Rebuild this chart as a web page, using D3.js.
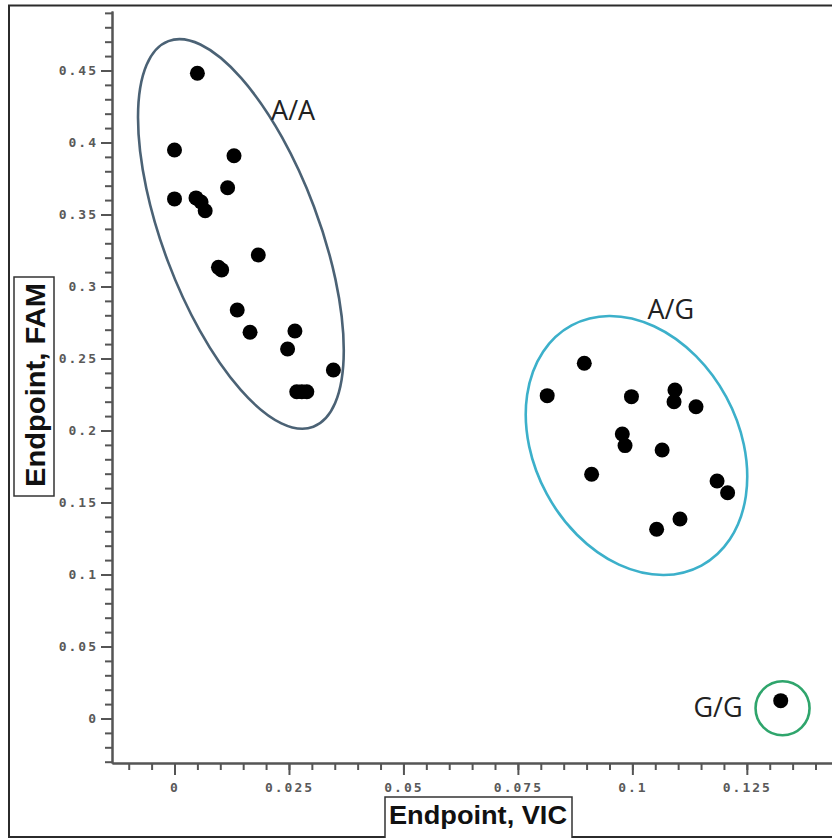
<!DOCTYPE html>
<html>
<head>
<meta charset="utf-8">
<script src="https://cdn.jsdelivr.net/npm/d3@7"></script>
<style>
  body { margin: 0; background: #fff; }
  svg { display: block; }
</style>
</head>
<body>
<svg id="scatter_svg" width="832" height="838"></svg>
<script>
// Endpoint values, one pair of arrays per genotype
const aaVIC = [0.0050, 0.0000, 0.0130, 0.0116, 0.0000, 0.0047, 0.0058, 0.0067, 0.0183, 0.0096,
  0.0103, 0.0137, 0.0165, 0.0263, 0.0247, 0.0347, 0.0267, 0.0278, 0.0289]
const aaFAM = [0.4481, 0.3948, 0.3908, 0.3686, 0.3608, 0.3615, 0.3587, 0.3526, 0.3219, 0.3133,
  0.3115, 0.2837, 0.2682, 0.2691, 0.2566, 0.2420, 0.2269, 0.2269, 0.2269]

const agVIC = [0.0895, 0.0814, 0.0998, 0.1093, 0.1091, 0.1139, 0.0978, 0.0984, 0.1065, 0.0911,
  0.1185, 0.1208, 0.1104, 0.1053]
const agFAM = [0.2467, 0.2242, 0.2235, 0.2281, 0.2200, 0.2165, 0.1976, 0.1895, 0.1865, 0.1696,
  0.1649, 0.1568, 0.1385, 0.1314]

const ggVIC = [0.1324]
const ggFAM = [0.0124]

// cluster call names, centres and where the label sits (data units)
const clusterNames = ["A/A", "A/G", "G/G"]
const clusterCenterVIC = [0.0145, 0.1009, 0.1328]
const clusterCenterFAM = [0.3365, 0.1896, 0.0071]
const labelVIC = [0.0259, 0.1084, 0.1187]
const labelFAM = [0.4156, 0.2774, 0.0010]

// axis ticks
const xMajorTicks = [0, 0.025, 0.05, 0.075, 0.1, 0.125]
const xTickLabels = ["0", "0.025", "0.05", "0.075", "0.1", "0.125"]
const yMajorTicks = [0, 0.05, 0.1, 0.15, 0.2, 0.25, 0.3, 0.35, 0.4, 0.45]
const yTickLabels = ["0", "0.05", "0.1", "0.15", "0.2", "0.25", "0.3", "0.35", "0.4", "0.45"]

const svg = d3.select("#scatter_svg")

/**
 * Plot area in pixels
 */
const plot = { left: 112, right: 832, top: 11, bottom: 763 }

const xScale = d3.scaleLinear()
  .domain([-0.01365, 0.1436])
  .range([plot.left, plot.right])

const yScale = d3.scaleLinear()
  .domain([-0.0309, 0.4913])
  .range([plot.bottom, plot.top])

/**
 * Outer frame of the picture
 */
svg.append("rect")
  .attr("x", 9)
  .attr("y", 5.5)
  .attr("width", 840)
  .attr("height", 831.5)
  .attr("fill", "none")
  .attr("stroke", "#2b2b2b")
  .attr("stroke-width", 2)

/**
 * Ellipses round each cluster (drawn first, dots go on top)
 */
const ellipseStyle = [
  { rx: 78, ry: 206, angle: -20.6, color: "#4b6275" },
  { rx: 102, ry: 136.5, angle: -28.4, color: "#3cb0ca" },
  { rx: 27, ry: 27, angle: 0, color: "#2fa56c" },
]

svg.append("g")
  .selectAll("ellipse")
  .data(clusterNames)
  .join("ellipse")
  .attr("transform", (d, i) =>
    `translate(${xScale(clusterCenterVIC[i])},${yScale(clusterCenterFAM[i])}) rotate(${ellipseStyle[i].angle})`)
  .attr("rx", (d, i) => ellipseStyle[i].rx)
  .attr("ry", (d, i) => ellipseStyle[i].ry)
  .attr("fill", "none")
  .attr("stroke", (d, i) => ellipseStyle[i].color)
  .attr("stroke-width", 2.6)

/**
 * Dots
 */
const points = [
  ...aaVIC.map((v, i) => [v, aaFAM[i]]),
  ...agVIC.map((v, i) => [v, agFAM[i]]),
  ...ggVIC.map((v, i) => [v, ggFAM[i]]),
]

svg.append("g")
  .selectAll("circle")
  .data(points)
  .join("circle")
  .attr("cx", d => xScale(d[0]))
  .attr("cy", d => yScale(d[1]))
  .attr("r", 7.5)
  .attr("fill", "#000")

/**
 * Cluster labels
 */
svg.append("g")
  .selectAll("text")
  .data(clusterNames)
  .join("text")
  .attr("x", (d, i) => xScale(labelVIC[i]))
  .attr("y", (d, i) => yScale(labelFAM[i]))
  .attr("text-anchor", "middle")
  .attr("font-family", "'Open Sans', sans-serif")
  .attr("font-size", 27)
  .attr("fill", "#222")
  .text(d => d)

/**
 * Axes: major ticks with labels, minor ticks without
 */
const axisColor = "#555"

function styleAxis(g) {
  g.select(".domain").attr("stroke", axisColor).attr("stroke-width", 2)
  g.selectAll(".tick line").attr("stroke", axisColor).attr("stroke-width", 2)
  g.selectAll(".tick text")
    .attr("fill", "#595959")
    .attr("font-family", "'DejaVu Sans Mono', monospace")
    .attr("font-weight", "bold")
    .attr("font-size", 13)
    .attr("letter-spacing", "2px")
}

const xMinor = d3.range(-0.01, 0.1436, 0.005).map(v => Math.round(v * 1000) / 1000)
const yMinor = d3.range(-0.03, 0.4913, 0.01).map(v => Math.round(v * 100) / 100)

svg.append("g")
  .attr("transform", `translate(0,${plot.bottom})`)
  .call(d3.axisBottom(xScale).tickValues(xMinor).tickSize(7).tickFormat("").tickSizeOuter(0))
  .call(styleAxis)

svg.append("g")
  .attr("transform", `translate(0,${plot.bottom})`)
  .call(d3.axisBottom(xScale).tickValues(xMajorTicks).tickSize(12).tickPadding(8)
    .tickFormat((d, i) => xTickLabels[i]).tickSizeOuter(0))
  .call(styleAxis)

svg.append("g")
  .attr("transform", `translate(${plot.left},0)`)
  .call(d3.axisLeft(yScale).tickValues(yMinor).tickSize(7).tickFormat("").tickSizeOuter(0))
  .call(styleAxis)

svg.append("g")
  .attr("transform", `translate(${plot.left},0)`)
  .call(d3.axisLeft(yScale).tickValues(yMajorTicks).tickSize(11).tickPadding(3)
    .tickFormat((d, i) => yTickLabels[i]).tickSizeOuter(0))
  .call(styleAxis)

/**
 * Boxed axis titles
 */
svg.append("rect")
  .attr("x", 385).attr("y", 797).attr("width", 187).attr("height", 44)
  .attr("fill", "#fff").attr("stroke", "#333").attr("stroke-width", 1.5)

svg.append("text")
  .attr("x", 478).attr("y", 824)
  .attr("text-anchor", "middle")
  .attr("font-family", "'Liberation Sans', Arial, sans-serif")
  .attr("font-weight", "bold")
  .attr("font-size", 26)
  .attr("textLength", 178)
  .attr("lengthAdjust", "spacingAndGlyphs")
  .attr("fill", "#111")
  .text("Endpoint, VIC")

svg.append("rect")
  .attr("x", 14).attr("y", 277).attr("width", 40).attr("height", 219)
  .attr("fill", "#fff").attr("stroke", "#333").attr("stroke-width", 1.5)

svg.append("text")
  .attr("transform", "translate(45,385) rotate(-90)")
  .attr("text-anchor", "middle")
  .attr("font-family", "'Liberation Sans', Arial, sans-serif")
  .attr("font-weight", "bold")
  .attr("font-size", 27)
  .attr("textLength", 204)
  .attr("lengthAdjust", "spacingAndGlyphs")
  .attr("fill", "#111")
  .text("Endpoint, FAM")
</script>
</body>
</html>
